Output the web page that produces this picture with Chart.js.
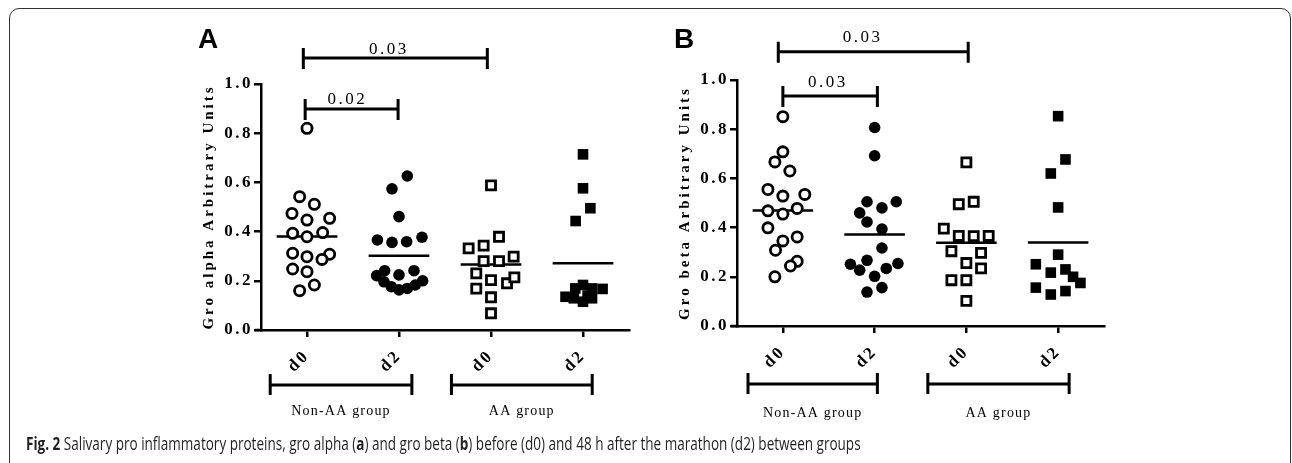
<!DOCTYPE html>
<html>
<head>
<meta charset="utf-8">
<script src="https://cdn.jsdelivr.net/npm/chart.js@4.4.1/dist/chart.umd.min.js"></script>
<style>
body{margin:0;background:#fff;}
#wrap{position:relative;width:1292px;height:463px;overflow:hidden;}
canvas{position:absolute;left:0;top:0;}
#frame{position:absolute;left:9px;top:8px;width:1282px;height:480px;border:1.5px solid #333;border-radius:10px;box-sizing:border-box;}
#cap{position:absolute;left:26px;top:431px;font-size:17.5px;font-family:"Open Sans",sans-serif;color:#231f20;white-space:nowrap;transform:scaleX(0.773);transform-origin:0 0;}
</style>
</head>
<body>
<div id="wrap">
  <div id="frame"></div>
  <canvas id="panelA" width="1292" height="463"></canvas>
  <canvas id="panelB" width="1292" height="463"></canvas>
  <div id="cap"><b>Fig. 2</b> Salivary pro inflammatory proteins, gro alpha (<b>a</b>) and gro beta (<b>b</b>) before (d0) and 48 h after the marathon (d2) between groups</div>
</div>
<script>
// categories / ticks
const xLabels = ['d0', 'd2', 'd0', 'd2'];
const yTicks = [0, 0.2, 0.4, 0.6, 0.8, 1.0];
const groupNames = ['Non-AA group', 'AA group'];

// panel A - gro alpha (values + horizontal scatter offset of each dot)
const alphaNonD0 = [0.82, 0.542, 0.511, 0.474, 0.454, 0.447, 0.393, 0.379, 0.396, 0.312, 0.298, 0.308, 0.287, 0.248, 0.237, 0.183, 0.160];
const alphaNonD0Off = [0, -0.08, 0.08, -0.163, 0.246, 0, -0.156, 0, 0.17, -0.156, 0, 0.246, 0.163, -0.156, 0, 0.08, -0.08];
const alphaNonD2 = [0.626, 0.574, 0.461, 0.366, 0.356, 0.359, 0.377, 0.241, 0.224, 0.241, 0.221, 0.196, 0.176, 0.163, 0.169, 0.183, 0.2];
const alphaNonD2Off = [0.09, -0.076, 0, -0.235, -0.076, 0.083, 0.25, -0.156, 0, 0.163, -0.243, -0.163, -0.083, 0, 0.09, 0.177, 0.257];
const alphaAAD0 = [0.588, 0.332, 0.343, 0.379, 0.28, 0.28, 0.298, 0.23, 0.203, 0.19, 0.214, 0.168, 0.133, 0.068];
const alphaAAD0Off = [0, -0.243, -0.08, 0.087, -0.08, 0.087, 0.246, -0.16, 0, 0.174, 0.254, -0.16, 0, 0];
const alphaAAD2 = [0.714, 0.576, 0.495, 0.443, 0.183, 0.169, 0.169, 0.167, 0.135, 0.129, 0.115, 0.129, 0.14];
const alphaAAD2Off = [0, 0, 0.08, -0.08, 0, -0.084, 0.098, 0.213, -0.19, -0.1, 0, 0.098, 0.05];
const alphaMeans = [0.38, 0.302, 0.266, 0.271];

// panel B - gro beta
const betaNonD0 = [0.851, 0.708, 0.667, 0.63, 0.555, 0.528, 0.535, 0.468, 0.455, 0.478, 0.399, 0.346, 0.362, 0.308, 0.263, 0.244, 0.2];
const betaNonD0Off = [0, 0, -0.087, 0.076, -0.163, 0, 0.239, -0.163, 0, 0.156, -0.163, 0, 0.156, -0.08, 0.156, 0.083, -0.087];
const betaNonD2 = [0.807, 0.692, 0.505, 0.48, 0.505, 0.46, 0.423, 0.394, 0.317, 0.251, 0.267, 0.254, 0.227, 0.234, 0.202, 0.138, 0.156];
const betaNonD2Off = [0, 0, -0.083, 0.08, 0.236, -0.163, -0.083, 0.08, 0.08, -0.264, -0.083, 0.254, -0.163, 0.127, 0, -0.083, 0.08];
const betaAAD0 = [0.665, 0.495, 0.505, 0.396, 0.366, 0.365, 0.366, 0.304, 0.297, 0.256, 0.234, 0.186, 0.186, 0.102];
const betaAAD0Off = [0, -0.083, 0.08, -0.246, -0.083, 0.08, 0.243, -0.163, 0.16, 0, 0.16, -0.163, 0, 0];
const betaAAD2 = [0.853, 0.677, 0.62, 0.482, 0.29, 0.251, 0.217, 0.23, 0.2, 0.175, 0.156, 0.128, 0.142];
const betaAAD2Off = [0, 0.08, -0.08, 0, 0, -0.243, -0.08, 0.08, 0.163, 0.243, -0.243, -0.08, 0.08];
const betaMeans = [0.47, 0.372, 0.338, 0.339];

// marker look for the 4 groups: open circle, filled circle, open square, filled square
const markers = [
  {pointStyle: 'circle', radius: 5.1, borderWidth: 2.8, fill: '#fff'},
  {pointStyle: 'circle', radius: 5.8, borderWidth: 0, fill: '#000'},
  {pointStyle: 'rect', radius: 6.4, borderWidth: 2.8, fill: '#fff'},
  {pointStyle: 'rect', radius: 7.5, borderWidth: 0, fill: '#000'}
];

const serif = '"Liberation Serif", "Times New Roman", serif';

// draws brackets, group bars, panel letter and y title
const decor = {
  id: 'decor',
  beforeDraw(chart) {
    chart.ctx.letterSpacing = '2.5px';
  },
  afterDraw(chart) {
    const o = chart.options.plugins.decor;
    const ctx = chart.ctx, xs = chart.scales.x, ys = chart.scales.y;
    ctx.save();
    ctx.letterSpacing = '0px';
    ctx.strokeStyle = '#000';
    ctx.fillStyle = '#000';

    // x axis line pokes a little left of the y axis
    ctx.beginPath();
    ctx.moveTo(chart.chartArea.left - 6, chart.chartArea.bottom);
    ctx.lineTo(chart.chartArea.left, chart.chartArea.bottom);
    ctx.lineWidth = 2.5;
    ctx.stroke();
    ctx.lineWidth = 3;

    o.brackets.forEach(b => {
      const x1 = xs.getPixelForValue(b.from), x2 = xs.getPixelForValue(b.to);
      const py = ys.getPixelForValue(b.y);
      ctx.beginPath();
      ctx.moveTo(x1, py); ctx.lineTo(x2, py);
      ctx.moveTo(x1, py - 10); ctx.lineTo(x1, py + 11);
      ctx.moveTo(x2, py - 10); ctx.lineTo(x2, py + 11);
      ctx.stroke();
      ctx.font = '17px ' + serif;
      ctx.letterSpacing = '2.5px';
      ctx.textAlign = 'center';
      ctx.textBaseline = 'alphabetic';
      ctx.fillText(b.label, xs.getPixelForValue(b.labelAt), py - b.gap);
      ctx.letterSpacing = '0px';
    });

    o.groups.forEach((g, i) => {
      const x1 = xs.getPixelForValue(g[0]), x2 = xs.getPixelForValue(g[1]);
      const py = o.groupY;
      ctx.beginPath();
      ctx.moveTo(x1, py); ctx.lineTo(x2, py);
      ctx.moveTo(x1, py - 11); ctx.lineTo(x1, py + 10);
      ctx.moveTo(x2, py - 11); ctx.lineTo(x2, py + 10);
      ctx.stroke();
      ctx.font = '14px ' + serif;
      ctx.letterSpacing = '1.2px';
      ctx.textAlign = 'center';
      ctx.fillText(groupNames[i], (x1 + x2) / 2, o.groupTextY);
      ctx.letterSpacing = '0px';
    });

    // panel letter
    ctx.font = 'bold 28px "Liberation Sans", Arial, sans-serif';
    ctx.textAlign = 'left';
    ctx.fillText(o.letter, chart.chartArea.left - 63, 48);

    // y axis title
    ctx.save();
    ctx.translate(chart.chartArea.left - 52, (chart.chartArea.top + chart.chartArea.bottom) / 2);
    ctx.rotate(-Math.PI / 2);
    ctx.font = 'bold 15px ' + serif;
    ctx.letterSpacing = '3px';
    ctx.textAlign = 'center';
    ctx.textBaseline = 'middle';
    ctx.fillText(o.yTitle, 0, 0);
    ctx.restore();

    ctx.restore();
  }
};

function buildDatasets(groups, means) {
  const sets = [];
  groups.forEach((g, i) => {
    const m = markers[i];
    sets.push({
      data: g.values.map((v, k) => ({x: i + 1 + g.offs[k], y: v})),
      pointStyle: m.pointStyle,
      pointRadius: m.radius,
      pointBorderWidth: m.borderWidth,
      pointBackgroundColor: m.fill,
      pointBorderColor: '#000'
    });
  });
  means.forEach((mv, i) => {
    sets.push({
      data: [{x: i + 1 - 0.33, y: mv}, {x: i + 1 + 0.33, y: mv}],
      showLine: true,
      borderColor: '#000',
      borderWidth: 2.5,
      pointRadius: 0
    });
  });
  return sets;
}

function panel(id, groups, means, lay, deco) {
  new Chart(document.getElementById(id), {
    type: 'scatter',
    data: {datasets: buildDatasets(groups, means)},
    options: {
      responsive: false,
      animation: false,
      events: [],
      layout: {padding: {left: lay.left, top: lay.top, right: lay.right, bottom: 0}},
      plugins: {legend: {display: false}, tooltip: {enabled: false}, decor: deco},
      scales: {
        x: {
          type: 'linear', min: 0.5, max: 4.5,
          afterBuildTicks: s => { s.ticks = [1, 2, 3, 4].map(v => ({value: v})); },
          afterFit: s => { s.height = lay.xHeight; },
          ticks: {
            callback: v => xLabels[v - 1],
            minRotation: 45, maxRotation: 45,
            color: '#000', padding: 9,
            font: {family: serif, size: 17, weight: 'bold'}
          },
          grid: {drawOnChartArea: false, tickLength: 7, color: '#000', lineWidth: 2.5},
          border: {color: '#000', width: 2.5}
        },
        y: {
          min: 0, max: 1,
          afterBuildTicks: s => { s.ticks = yTicks.map(v => ({value: v})); },
          afterFit: s => { s.width = 60; },
          ticks: {
            callback: v => v.toFixed(1),
            color: '#000', padding: 1,
            font: {family: serif, size: 17, weight: 'bold'}
          },
          grid: {drawOnChartArea: false, tickLength: 7, color: '#000', lineWidth: 2.5},
          border: {color: '#000', width: 2.5}
        }
      }
    },
    plugins: [decor]
  });
}

panel('panelA', [
  {values: alphaNonD0, offs: alphaNonD0Off},
  {values: alphaNonD2, offs: alphaNonD2Off},
  {values: alphaAAD0, offs: alphaAAD0Off},
  {values: alphaAAD2, offs: alphaAAD2Off}
], alphaMeans, {left: 201, top: 84, right: 663, xHeight: 133}, {
  letter: 'A',
  yTitle: 'Gro alpha Arbitrary Units',
  brackets: [
    {from: 0.96, to: 2.96, y: 1.106, label: '0.03', labelAt: 1.89, gap: 4},
    {from: 0.98, to: 1.99, y: 0.898, label: '0.02', labelAt: 1.44, gap: 5}
  ],
  groups: [[0.6, 2.14], [2.57, 4.1]],
  groupY: 385, groupTextY: 415
});

panel('panelB', [
  {values: betaNonD0, offs: betaNonD0Off},
  {values: betaNonD2, offs: betaNonD2Off},
  {values: betaAAD0, offs: betaAAD0Off},
  {values: betaAAD2, offs: betaAAD2Off}
], betaMeans, {left: 677, top: 80, right: 188, xHeight: 137}, {
  letter: 'B',
  yTitle: 'Gro beta Arbitrary Units',
  brackets: [
    {from: 0.95, to: 3.02, y: 1.115, label: '0.03', labelAt: 1.87, gap: 10},
    {from: 1.0, to: 2.03, y: 0.935, label: '0.03', labelAt: 1.49, gap: 9}
  ],
  groups: [[0.62, 2.03], [2.58, 4.12]],
  groupY: 384, groupTextY: 417
});
</script>
</body>
</html>
